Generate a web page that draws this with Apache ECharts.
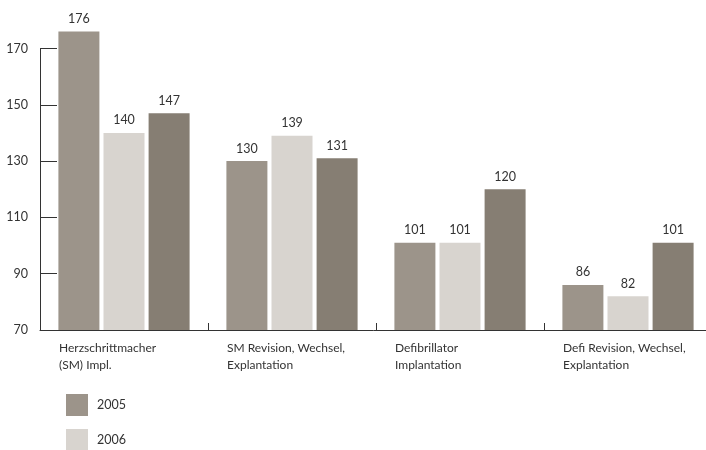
<!DOCTYPE html>
<html>
<head>
<meta charset="utf-8">
<script src="https://cdn.jsdelivr.net/npm/echarts@6/dist/echarts.min.js"></script>
<style>
  html, body { margin: 0; padding: 0; background: #fff; }
  #chart { width: 706px; height: 450px; }
</style>
</head>
<body>
<div id="chart"></div>
<script>
// Procedure categories (x axis)
const categories = [
  'Herzschrittmacher\n(SM) Impl.',
  'SM Revision, Wechsel,\nExplantation',
  'Defibrillator\nImplantation',
  'Defi Revision, Wechsel,\nExplantation'
];
// Yearly counts per category
const years = ['2005', '2006', '2007'];
const values2005 = [176, 130, 101, 86];
const values2006 = [140, 139, 101, 82];
const values2007 = [147, 131, 120, 101];
// Value axis ticks
const yMin = 70;
const yTop = 170;
const yStep = 20;

const colors = ['#9c948a', '#d8d4cf', '#867e73'];
const font = 'Lato, "Noto Sans", sans-serif';
const textColor = '#333';

// Plot area: the drawn axis spans yMin..yTop; the bar grid reaches a bit
// higher so the tallest bar can rise above the axis end.
const plotLeft = 40;
const plotWidth = 672;
const plotBottom = 120;
const axisTop = 48.5;
const pxPerUnit = (450 - plotBottom - axisTop) / (yTop - yMin);
const headroom = 10;
const barTop = axisTop - headroom * pxPerUnit;

const chart = echarts.init(document.getElementById('chart'), null, { renderer: 'canvas' });

function barSeries(name, data, color) {
  return {
    name: name,
    type: 'bar',
    xAxisIndex: 0,
    yAxisIndex: 0,
    data: data,
    barWidth: 41,
    barGap: '10%',
    itemStyle: { color: color },
    label: {
      show: true,
      position: 'top',
      distance: 6,
      color: textColor,
      fontFamily: font,
      fontSize: 12.5
    }
  };
}

chart.setOption({
  animation: false,
  backgroundColor: '#fff',
  color: colors,
  grid: [
    { left: plotLeft, width: plotWidth, top: barTop, bottom: plotBottom, outerBoundsMode: 'none' },
    { left: plotLeft, width: plotWidth, top: axisTop, bottom: plotBottom, outerBoundsMode: 'none' }
  ],
  legend: {
    orient: 'vertical',
    left: 66,
    top: 394,
    height: 140,
    padding: 0,
    itemWidth: 22,
    itemHeight: 22,
    itemGap: 13,
    icon: 'rect',
    data: years,
    textStyle: { color: textColor, fontFamily: font, fontSize: 12.5, padding: [0, 0, 0, 4] }
  },
  xAxis: [
    {
      type: 'category',
      gridIndex: 0,
      data: categories,
      axisLine: { lineStyle: { color: '#333', width: 1 } },
      axisTick: { show: true, inside: true, length: 7, interval: 0, lineStyle: { color: '#333' } },
      axisLabel: {
        interval: 0,
        hideOverlap: false,
        align: 'left',
        margin: 10,
        lineHeight: 17,
        padding: [0, 0, 0, -65],
        color: textColor,
        fontFamily: font,
        fontSize: 12
      }
    },
    { type: 'category', gridIndex: 1, data: categories, show: false }
  ],
  yAxis: [
    {
      type: 'value',
      gridIndex: 0,
      min: yMin,
      max: yTop + headroom,
      show: false
    },
    {
      type: 'value',
      gridIndex: 1,
      min: yMin,
      max: yTop,
      interval: yStep,
      splitLine: { show: false },
      axisLine: { show: true, lineStyle: { color: '#333', width: 1 } },
      axisTick: { show: true, inside: true, length: 17, lineStyle: { color: '#333' } },
      axisLabel: { margin: 12, color: textColor, fontFamily: font, fontSize: 12.5 }
    }
  ],
  series: [
    barSeries(years[0], values2005, colors[0]),
    barSeries(years[1], values2006, colors[1]),
    barSeries(years[2], values2007, colors[2])
  ]
});
</script>
</body>
</html>
